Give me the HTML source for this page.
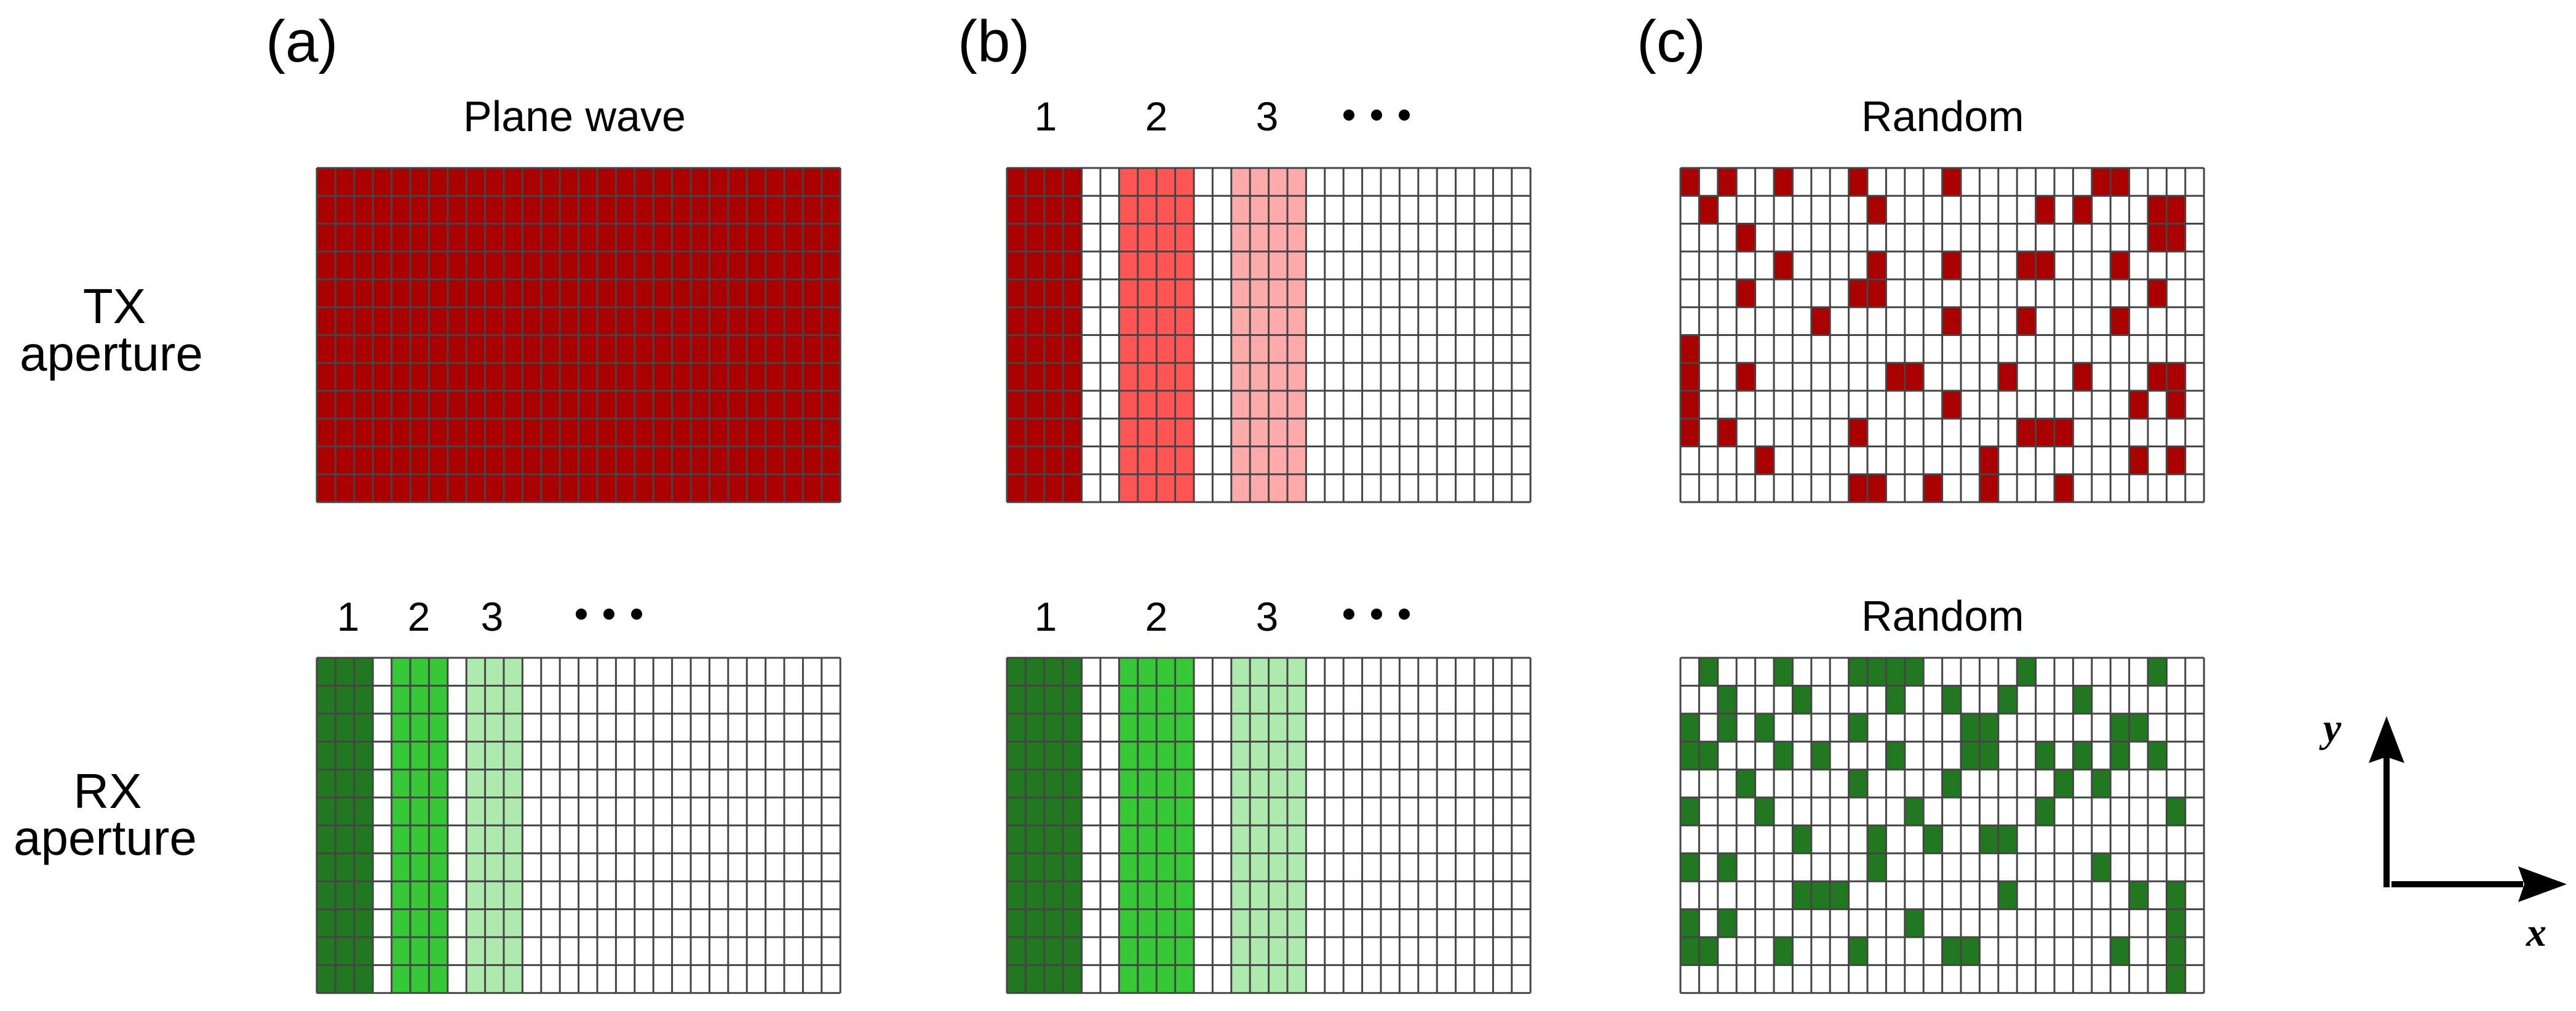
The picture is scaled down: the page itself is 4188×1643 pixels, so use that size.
<!DOCTYPE html>
<html><head><meta charset="utf-8"><style>
html,body{margin:0;padding:0;background:#fff;}
svg{display:block;}
text{font-family:"Liberation Sans",Arial,sans-serif;fill:#000;}
</style></head><body>
<svg width="4188" height="1643" viewBox="0 0 4188 1643" xmlns="http://www.w3.org/2000/svg">
<rect width="4188" height="1643" fill="#fff"/>
<defs>
<path id="gl" d="M0 0V12M1 0V12M2 0V12M3 0V12M4 0V12M5 0V12M6 0V12M7 0V12M8 0V12M9 0V12M10 0V12M11 0V12M12 0V12M13 0V12M14 0V12M15 0V12M16 0V12M17 0V12M18 0V12M19 0V12M20 0V12M21 0V12M22 0V12M23 0V12M24 0V12M25 0V12M26 0V12M27 0V12M28 0V12M0 0H28M0 1H28M0 2H28M0 3H28M0 4H28M0 5H28M0 6H28M0 7H28M0 8H28M0 9H28M0 10H28M0 11H28M0 12H28" fill="none" stroke="#454545" stroke-width="3" vector-effect="non-scaling-stroke"/>
</defs>

<!-- labels -->
<text x="432" y="100" font-size="96">(a)</text>
<text x="1557" y="100" font-size="96">(b)</text>
<text x="2661" y="100" font-size="96">(c)</text>
<text x="753" y="213" font-size="70">Plane wave</text>
<text x="3026" y="213" font-size="70">Random</text>
<text x="3026" y="1025" font-size="70">Random</text>

<text x="186" y="525" font-size="80" text-anchor="middle">TX</text>
<text x="181" y="602" font-size="80" text-anchor="middle">aperture</text>
<text x="175" y="1313" font-size="80" text-anchor="middle">RX</text>
<text x="171" y="1389" font-size="80" text-anchor="middle">aperture</text>

<!-- (b) top numbers -->
<g font-size="66" text-anchor="middle">
<text x="1700" y="212">1</text><text x="1880" y="212">2</text><text x="2060" y="212">3</text>
<text x="566" y="1025">1</text><text x="681" y="1025">2</text><text x="800" y="1025">3</text>
<text x="1700" y="1025">1</text><text x="1880" y="1025">2</text><text x="2060" y="1025">3</text>
</g>
<g fill="#000">
<circle cx="2193" cy="187" r="9"/><circle cx="2238" cy="187" r="9"/><circle cx="2283" cy="187" r="9"/>
<circle cx="945" cy="998" r="9"/><circle cx="990" cy="998" r="9"/><circle cx="1035" cy="998" r="9"/>
<circle cx="2193" cy="998" r="9"/><circle cx="2238" cy="998" r="9"/><circle cx="2283" cy="998" r="9"/>
</g>

<!-- (a) TX -->
<g transform="translate(515,273) scale(30.4,45.25)">
<rect x="0" y="0" width="28" height="12" fill="#aa0000"/>
<use href="#gl"/>
</g>
<!-- (b) TX -->
<g transform="translate(1637,273) scale(30.4,45.25)">
<rect x="0" y="0" width="4" height="12" fill="#aa0000"/>
<rect x="6" y="0" width="4" height="12" fill="#ff5555"/>
<rect x="12" y="0" width="4" height="12" fill="#ffaaaa"/>
<use href="#gl"/>
</g>
<!-- (c) TX -->
<g transform="translate(2732,273) scale(30.4,45.25)">
<path fill="#aa0000" d="
M0 0h1v1h-1zM2 0h1v1h-1zM5 0h1v1h-1zM9 0h1v1h-1zM14 0h1v1h-1zM22 0h1v1h-1zM23 0h1v1h-1z
M1 1h1v1h-1zM10 1h1v1h-1zM19 1h1v1h-1zM21 1h1v1h-1zM25 1h1v1h-1zM26 1h1v1h-1z
M3 2h1v1h-1zM25 2h1v1h-1zM26 2h1v1h-1z
M5 3h1v1h-1zM10 3h1v1h-1zM14 3h1v1h-1zM18 3h1v1h-1zM19 3h1v1h-1zM23 3h1v1h-1z
M3 4h1v1h-1zM9 4h1v1h-1zM10 4h1v1h-1zM25 4h1v1h-1z
M7 5h1v1h-1zM14 5h1v1h-1zM18 5h1v1h-1zM23 5h1v1h-1z
M0 6h1v1h-1z
M0 7h1v1h-1zM3 7h1v1h-1zM11 7h1v1h-1zM12 7h1v1h-1zM17 7h1v1h-1zM21 7h1v1h-1zM25 7h1v1h-1zM26 7h1v1h-1z
M0 8h1v1h-1zM14 8h1v1h-1zM24 8h1v1h-1zM26 8h1v1h-1z
M0 9h1v1h-1zM2 9h1v1h-1zM9 9h1v1h-1zM18 9h1v1h-1zM19 9h1v1h-1zM20 9h1v1h-1z
M4 10h1v1h-1zM16 10h1v1h-1zM24 10h1v1h-1zM26 10h1v1h-1z
M9 11h1v1h-1zM10 11h1v1h-1zM13 11h1v1h-1zM16 11h1v1h-1zM20 11h1v1h-1z"/>
<use href="#gl"/>
</g>

<!-- (a) RX -->
<g transform="translate(515,1069) scale(30.4,45.4)">
<rect x="0" y="0" width="3" height="12" fill="#217821"/>
<rect x="4" y="0" width="3" height="12" fill="#37c837"/>
<rect x="8" y="0" width="3" height="12" fill="#aee9ae"/>
<use href="#gl"/>
</g>
<!-- (b) RX -->
<g transform="translate(1637,1069) scale(30.4,45.4)">
<rect x="0" y="0" width="4" height="12" fill="#217821"/>
<rect x="6" y="0" width="4" height="12" fill="#37c837"/>
<rect x="12" y="0" width="4" height="12" fill="#aee9ae"/>
<use href="#gl"/>
</g>
<!-- (c) RX -->
<g transform="translate(2732,1069) scale(30.4,45.4)">
<path fill="#217821" d="
M1 0h1v1h-1zM5 0h1v1h-1zM9 0h1v1h-1zM10 0h1v1h-1zM11 0h1v1h-1zM12 0h1v1h-1zM18 0h1v1h-1zM25 0h1v1h-1z
M2 1h1v1h-1zM6 1h1v1h-1zM11 1h1v1h-1zM14 1h1v1h-1zM17 1h1v1h-1zM21 1h1v1h-1z
M0 2h1v1h-1zM2 2h1v1h-1zM4 2h1v1h-1zM9 2h1v1h-1zM15 2h1v1h-1zM16 2h1v1h-1zM23 2h1v1h-1zM24 2h1v1h-1z
M0 3h1v1h-1zM1 3h1v1h-1zM5 3h1v1h-1zM7 3h1v1h-1zM11 3h1v1h-1zM15 3h1v1h-1zM16 3h1v1h-1zM19 3h1v1h-1zM21 3h1v1h-1zM23 3h1v1h-1zM25 3h1v1h-1z
M3 4h1v1h-1zM9 4h1v1h-1zM14 4h1v1h-1zM20 4h1v1h-1zM22 4h1v1h-1z
M0 5h1v1h-1zM4 5h1v1h-1zM12 5h1v1h-1zM19 5h1v1h-1zM26 5h1v1h-1z
M6 6h1v1h-1zM10 6h1v1h-1zM13 6h1v1h-1zM16 6h1v1h-1zM17 6h1v1h-1z
M0 7h1v1h-1zM2 7h1v1h-1zM10 7h1v1h-1zM22 7h1v1h-1z
M6 8h1v1h-1zM7 8h1v1h-1zM8 8h1v1h-1zM17 8h1v1h-1zM24 8h1v1h-1zM26 8h1v1h-1z
M0 9h1v1h-1zM2 9h1v1h-1zM12 9h1v1h-1zM26 9h1v1h-1z
M0 10h1v1h-1zM1 10h1v1h-1zM5 10h1v1h-1zM9 10h1v1h-1zM14 10h1v1h-1zM15 10h1v1h-1zM23 10h1v1h-1zM26 10h1v1h-1z
M26 11h1v1h-1z"/>
<use href="#gl"/>
</g>

<!-- axes -->
<rect x="3875" y="1228" width="10" height="214" fill="#000"/>
<polygon points="3880,1164 3851,1240 3880,1230 3909,1240" fill="#000"/>
<rect x="3888" y="1432" width="214" height="10" fill="#000"/>
<polygon points="4173,1437 4094,1408 4104,1437 4094,1466" fill="#000"/>
<text x="3777" y="1205" font-size="66" font-style="italic" font-weight="bold" style="font-family:'Liberation Serif',serif">y</text>
<text x="4107" y="1537" font-size="66" font-style="italic" font-weight="bold" style="font-family:'Liberation Serif',serif">x</text>
</svg>
</body></html>
